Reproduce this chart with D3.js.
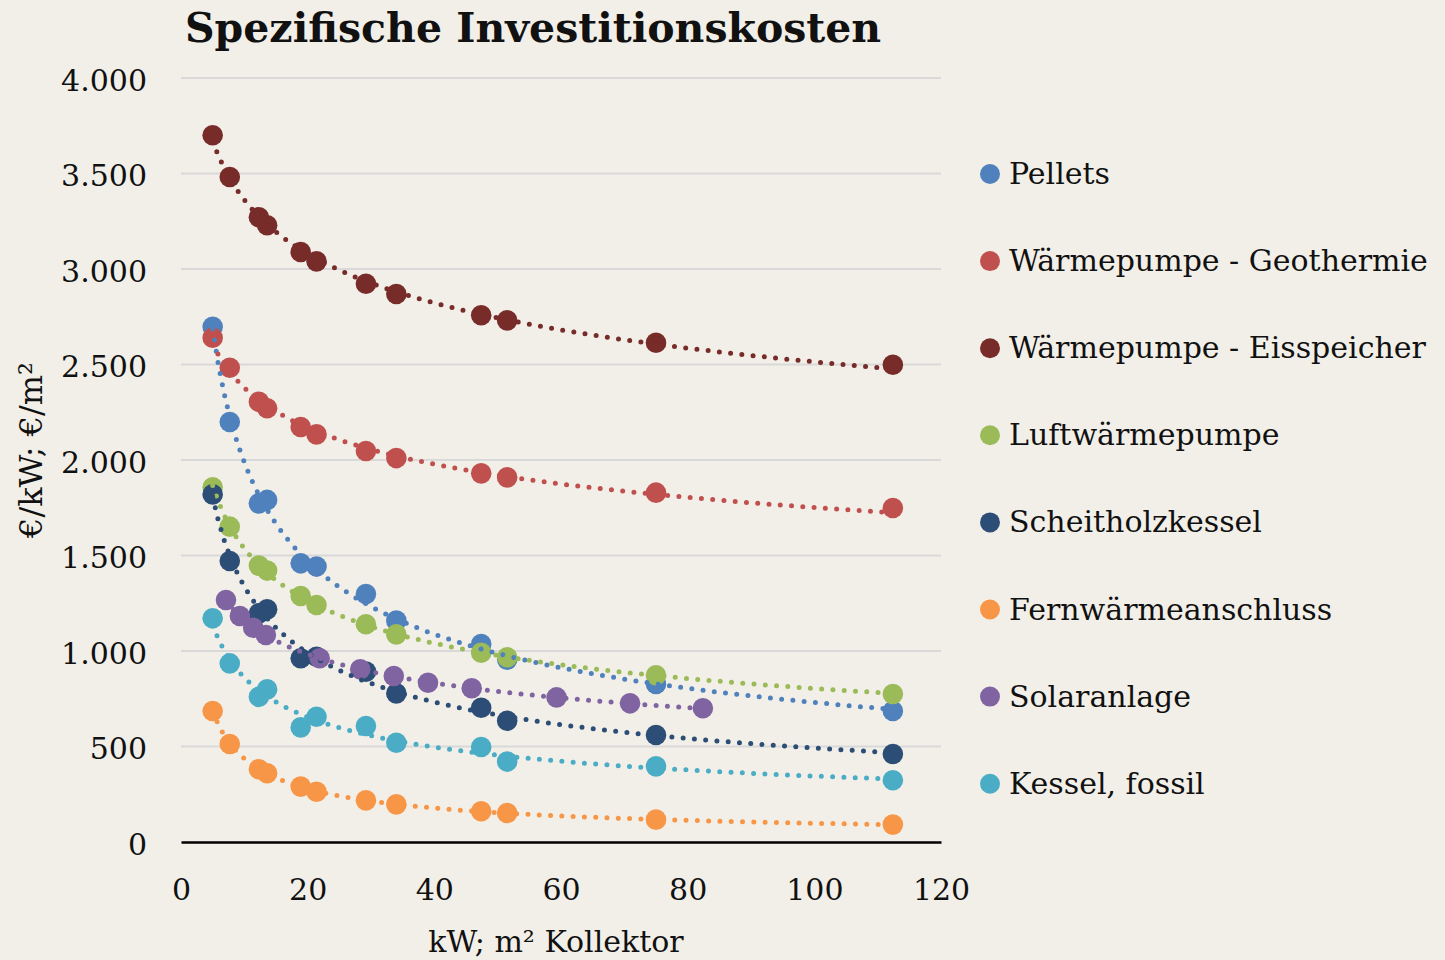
<!DOCTYPE html>
<html>
<head>
<meta charset="utf-8">
<script src="https://cdn.jsdelivr.net/npm/d3@7"></script>
<style>
  body { margin: 0; background: #f2efe8; }
  text { font-family: "DejaVu Serif", serif; fill: #111; }
</style>
</head>
<body>
<div id="chart"></div>
<script>
// data
const xShared = [5, 7.7, 12.3, 13.6, 18.9, 21.4, 29.2, 34, 47.4, 51.5, 75, 112.4];
const xSolar = [7.1, 9.3, 11.4, 13.4, 21.9, 28.3, 33.6, 39.0, 45.9, 59.3, 70.9, 82.4];

const pellets = [2698, 2199, 1773, 1791, 1459, 1442, 1298, 1159, 1037, 955, 827, 686];
const geothermie = [2640, 2483, 2305, 2271, 2173, 2134, 2047, 2010, 1930, 1909, 1829, 1749];
const eisspeicher = [3700, 3482, 3271, 3229, 3089, 3040, 2923, 2869, 2758, 2731, 2614, 2499];
const luft = [1857, 1651, 1447, 1421, 1288, 1241, 1140, 1087, 991, 967, 873, 775];
const scheitholz = [1820, 1471, 1197, 1218, 962, 970, 892, 778, 703, 635, 560, 461];
const fernwaerme = [686, 513, 381, 360, 290, 263, 218, 197, 161, 152, 117, 91];
const solar = [1267, 1183, 1122, 1084, 962, 904, 869, 834, 805, 757, 726, 700];
const kessel = [1171, 935, 760, 799, 600, 656, 607, 520, 497, 421, 396, 323];

const seriesNames = ["Pellets", "Wärmepumpe - Geothermie", "Wärmepumpe - Eisspeicher",
  "Luftwärmepumpe", "Scheitholzkessel", "Fernwärmeanschluss", "Solaranlage", "Kessel, fossil"];
const seriesColors = ["#4f81bd", "#c0504d", "#772c2a", "#9bbb59", "#2c4d75", "#f79646", "#8064a2", "#4bacc6"];
const seriesX = [xShared, xShared, xShared, xShared, xShared, xShared, xSolar, xShared];
const seriesY = [pellets, geothermie, eisspeicher, luft, scheitholz, fernwaerme, solar, kessel];

const xTicks = [0, 20, 40, 60, 80, 100, 120];
const yTicks = [0, 500, 1000, 1500, 2000, 2500, 3000, 3500, 4000];

const width = 1445, height = 960;
const margin = {top: 78, right: 504, bottom: 118, left: 181};

const svg = d3.select("#chart")
    .append("svg")
    .attr("width", width)
    .attr("height", height)
    .style("background", "#f2efe8");

const x = d3.scaleLinear().domain([0, 120]).range([margin.left, width - margin.right]);
const y = d3.scaleLinear().domain([0, 4000]).range([height - margin.bottom, margin.top]);

const de = d3.formatLocale({decimal: ",", thousands: ".", grouping: [3], currency: ["", "€"]});

// gridlines
svg.append("g")
    .selectAll("line")
    .data(yTicks.filter(d => d > 0))
    .join("line")
    .attr("x1", x(0))
    .attr("x2", x(120))
    .attr("y1", d => y(d))
    .attr("y2", d => y(d))
    .attr("stroke", "#d9d9d9")
    .attr("stroke-width", 2);

// y axis (labels only)
const yAxis = svg.append("g")
    .attr("transform", `translate(${margin.left},0)`)
    .call(d3.axisLeft(y).tickValues(yTicks).tickSize(0).tickPadding(34).tickFormat(de.format(",")));
yAxis.select(".domain").remove();
yAxis.selectAll("text")
    .attr("dy", "0.4em")
    .style("font-size", "30px")
    .style("font-family", "DejaVu Serif");

// x axis
const xAxis = svg.append("g")
    .attr("transform", `translate(0,${y(0)})`)
    .call(d3.axisBottom(x).tickValues(xTicks).tickSize(0).tickPadding(37));
xAxis.select(".domain")
    .attr("stroke", "#000")
    .attr("stroke-width", 2.5);
xAxis.selectAll("text")
    .style("font-size", "30px")
    .style("font-family", "DejaVu Serif");

// markers for every series
seriesY.forEach((vals, i) => {
    svg.append("g")
        .selectAll("circle")
        .data(vals)
        .join("circle")
        .attr("cx", (d, j) => x(seriesX[i][j]))
        .attr("cy", d => y(d))
        .attr("r", 10.3)
        .attr("fill", seriesColors[i]);
});

// power trendlines like excel, on top of the markers
function powerFit(xs, ys) {
    const lx = xs.map(Math.log), ly = ys.map(Math.log);
    const mx = d3.mean(lx), my = d3.mean(ly);
    const b = d3.sum(lx, (v, k) => (v - mx) * (ly[k] - my)) / d3.sum(lx, v => (v - mx) * (v - mx));
    const a = Math.exp(my - b * mx);
    return xv => a * Math.pow(xv, b);
}

const line = d3.line()
    .x(d => x(d[0]))
    .y(d => y(d[1]));

seriesY.forEach((vals, i) => {
    const xs = seriesX[i];
    const f = powerFit(xs, vals);
    const [x0, x1] = d3.extent(xs);
    const pts = d3.range(0, 121).map(k => {
        const xv = x0 + (x1 - x0) * k / 120;
        return [xv, f(xv)];
    });
    svg.append("path")
        .datum(pts)
        .attr("fill", "none")
        .attr("stroke", seriesColors[i])
        .attr("stroke-width", 5)
        .attr("stroke-linecap", "round")
        .attr("stroke-dasharray", "0 11.3")
        .attr("d", line);
});

// title
svg.append("text")
    .attr("x", 185)
    .attr("y", 42)
    .style("font-size", "41px")
    .style("font-weight", "bold")
    .text("Spezifische Investitionskosten");

// axis titles
svg.append("text")
    .attr("transform", "translate(42,450) rotate(-90)")
    .attr("text-anchor", "middle")
    .style("font-size", "32px")
    .text("€/kW; €/m²");

svg.append("text")
    .attr("x", 556)
    .attr("y", 952)
    .attr("text-anchor", "middle")
    .style("font-size", "30px")
    .text("kW; m² Kollektor");

// legend
const legend = svg.append("g")
    .attr("transform", "translate(990,174)");
seriesNames.forEach((name, i) => {
    legend.append("circle")
        .attr("cx", 0)
        .attr("cy", i * 87.1)
        .attr("r", 10)
        .attr("fill", seriesColors[i]);
    legend.append("text")
        .attr("x", 19)
        .attr("y", i * 87.1 + 10)
        .style("font-size", "30px")
        .text(name);
});
</script>
</body>
</html>
